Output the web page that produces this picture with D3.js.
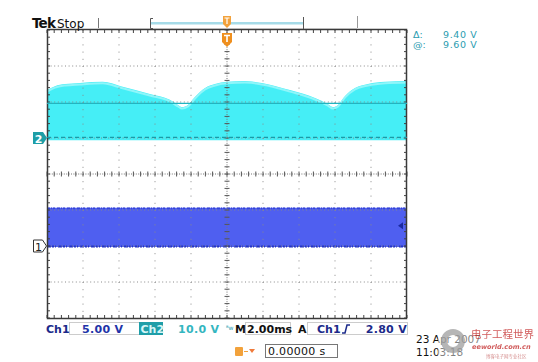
<!DOCTYPE html>
<html><head><meta charset="utf-8">
<script src="https://cdn.jsdelivr.net/npm/d3@7"></script>
<style>html,body{margin:0;padding:0;background:#fff;}svg{display:block;}</style>
</head><body>
<svg id="c" width="538" height="362"></svg>
<script>
// ---- data ----
const timeDomain = [-10, 10];            // ms, 2.00 ms/div
const divDomain = [-4, 4];               // vertical divisions
const ch2Scale = 10;                     // V/div
const ch2Offset = 1;                     // div
const ch1Scale = 5;                      // V/div
const ch1Offset = -2;                    // div
// Ch2 upper envelope (ms, V)
const ch2Time = [-10, -9.56, -9.0, -8.17, -6.9, -5.9, -4.28, -3.17, -2.72, -2.5, -2.17, -1.78, -1.22, -0.67, 0, 1.0, 1.94, 3.5, 4.89, 5.61, 5.89, 6.17, 6.56, 7.11, 7.83, 8.78, 10];
const ch2High = [13.3, 14.4, 15.0, 15.3, 15.6, 14.4, 12.2, 10.6, 9.2, 8.6, 9.2, 11.4, 13.9, 15.0, 15.6, 15.8, 15.3, 13.3, 11.1, 9.4, 8.6, 9.2, 11.7, 13.9, 15.0, 15.6, 15.8];
const ch2Low = -0.6;                     // V, lower envelope
// Ch1 band (ms, V)
const ch1Time = [-10, 10];
const ch1High = [5.3, 5.3];
const ch1Low = [-0.15, -0.15];
// cursors and trigger
const cursorA = 9.60;                    // @ (V, ch2)
const cursorDelta = 9.40;                // Δ (V)
const triggerLevel = 2.80;               // V on ch1
// readouts
const readoutLabels = ["Δ:", "@:"];
const readoutValues = ["9.40 V", "9.60 V"];

const svg = d3.select("#c");
const x = d3.scaleLinear().domain(timeDomain).range([47, 407]);
const yd = d3.scaleLinear().domain(divDomain).range([318, 30]);
const y2 = v => yd(ch2Offset + v / ch2Scale);
const y1 = v => yd(ch1Offset + v / ch1Scale);

const defs = svg.append("defs");
defs.append("filter").attr("id", "soft").append("feGaussianBlur").attr("stdDeviation", 0.7);

// ---- waveforms ----
const ch2Pts = ch2Time.map((t, i) => ({t, v: ch2High[i]}));
const area2 = d3.area().x(d => x(d.t)).y0(y2(ch2Low)).y1(d => y2(d.v)).curve(d3.curveMonotoneX);
svg.append("path").datum(ch2Pts).attr("d", area2).attr("fill", "#44eef6").attr("filter", "url(#soft)");
svg.append("path").datum(ch2Pts).attr("d", d3.line().x(d => x(d.t)).y(d => y2(d.v) + 1.5).curve(d3.curveMonotoneX))
  .attr("fill", "none").attr("stroke", "#8ff6fa").attr("stroke-width", 2).attr("filter", "url(#soft)");
svg.append("line").attr("x1", x(timeDomain[0])).attr("x2", x(timeDomain[1]))
  .attr("y1", y2(ch2Low)).attr("y2", y2(ch2Low)).attr("stroke", "#3cd8e4").attr("stroke-width", 2.5)
  .attr("stroke-dasharray", "2,1,1,2").attr("filter", "url(#soft)");

const ch1Pts = ch1Time.map((t, i) => ({t, hi: ch1High[i], lo: ch1Low[i]}));
svg.append("path").datum(ch1Pts).attr("d", d3.area().x(d => x(d.t)).y0(d => y1(d.lo)).y1(d => y1(d.hi)))
  .attr("fill", "#4f5ff0");
svg.append("line").attr("x1", x(timeDomain[0])).attr("x2", x(timeDomain[1]))
  .attr("y1", y1(ch1High[0]) + 0.5).attr("y2", y1(ch1High[0]) + 0.5)
  .attr("stroke", "#3444d8").attr("stroke-width", 1.6).attr("stroke-dasharray", "3,1,1,1,2,2");
svg.append("line").attr("x1", x(timeDomain[0])).attr("x2", x(timeDomain[1]))
  .attr("y1", y1(ch1Low[0]) - 0.5).attr("y2", y1(ch1Low[0]) - 0.5)
  .attr("stroke", "#2232c8").attr("stroke-width", 2).attr("stroke-dasharray", "4,1,2,1,1,2");

// ---- graticule ----
const g = svg.append("g");
const majorX = d3.range(-10, 10.01, 2);
const majorY = d3.range(-4, 4.01, 1);
majorX.filter(t => t !== 0 && Math.abs(t) !== 10).forEach(t => {
  g.append("line").attr("x1", x(t)).attr("x2", x(t)).attr("y1", yd(4)).attr("y2", yd(-4))
    .attr("stroke", "#8a8a8a").attr("stroke-width", 1).attr("stroke-dasharray", "1,6.2");
});
majorY.filter(d => d !== 0 && Math.abs(d) !== 4).forEach(d => {
  g.append("line").attr("x1", x(-10)).attr("x2", x(10)).attr("y1", yd(d)).attr("y2", yd(d))
    .attr("stroke", "#8a8a8a").attr("stroke-width", 1).attr("stroke-dasharray", "1,2.6");
});
// center lines
g.append("line").attr("x1", x(0)).attr("x2", x(0)).attr("y1", yd(4)).attr("y2", yd(-4))
  .attr("stroke", "#777").attr("stroke-width", 1).attr("stroke-dasharray", "1,1.4");
g.append("line").attr("x1", x(-10)).attr("x2", x(10)).attr("y1", yd(0)).attr("y2", yd(0))
  .attr("stroke", "#777").attr("stroke-width", 1).attr("stroke-dasharray", "1,1.4");
const minorX = d3.range(-10, 10.001, 0.4);
const minorY = d3.range(-4, 4.001, 0.2);
minorX.forEach(t => {
  const xx = x(t);
  g.append("line").attr("x1", xx).attr("x2", xx).attr("y1", yd(0) - 2.5).attr("y2", yd(0) + 2.5).attr("stroke", "#555");
  g.append("line").attr("x1", xx).attr("x2", xx).attr("y1", yd(4)).attr("y2", yd(4) + 3).attr("stroke", "#444");
  g.append("line").attr("x1", xx).attr("x2", xx).attr("y1", yd(-4)).attr("y2", yd(-4) - 3).attr("stroke", "#444");
});
minorY.forEach(d => {
  const yy = yd(d);
  g.append("line").attr("x1", x(0) - 2.5).attr("x2", x(0) + 2.5).attr("y1", yy).attr("y2", yy).attr("stroke", "#555");
  g.append("line").attr("x1", x(-10)).attr("x2", x(-10) + 3).attr("y1", yy).attr("y2", yy).attr("stroke", "#444");
  g.append("line").attr("x1", x(10)).attr("x2", x(10) - 3).attr("y1", yy).attr("y2", yy).attr("stroke", "#444");
});
g.append("rect").attr("x", x(-10) + 0.5).attr("y", yd(4) - 0.5).attr("width", x(10) - x(-10) - 1).attr("height", yd(-4) - yd(4) + 1)
  .attr("fill", "none").attr("stroke", "#3a3a3a").attr("stroke-width", 1.5);

// ---- cursors ----
svg.append("line").attr("x1", x(-10)).attr("x2", x(10)).attr("y1", y2(cursorA)).attr("y2", y2(cursorA))
  .attr("stroke", "#22b4c0").attr("stroke-width", 1.2);
svg.append("line").attr("x1", x(-10)).attr("x2", x(10)).attr("y1", y2(cursorA - cursorDelta)).attr("y2", y2(cursorA - cursorDelta))
  .attr("stroke", "#1a9aa8").attr("stroke-width", 1.2).attr("stroke-dasharray", "4,3");

// ---- channel markers ----
const m2 = svg.append("g").attr("transform", `translate(0,${y2(0)})`);
m2.append("path").attr("d", "M33,-6 H43 L47,0 L43,6 H33 Z").attr("fill", "#1e9ea6");
m2.append("text").attr("x", 38.5).attr("y", 4.5).attr("text-anchor", "middle").attr("fill", "#fff")
  .attr("font-family", "DejaVu Sans").attr("font-weight", "bold").attr("font-size", 11).text("2");
const m1 = svg.append("g").attr("transform", `translate(0,${y1(0)})`);
m1.append("path").attr("d", "M33.5,-6 H42.5 L46.5,0 L42.5,6 H33.5 Z").attr("fill", "#fff").attr("stroke", "#333");
m1.append("text").attr("x", 38.5).attr("y", 4.5).attr("text-anchor", "middle").attr("fill", "#222")
  .attr("font-family", "DejaVu Sans").attr("font-size", 11).text("1");
// trigger level arrow
svg.append("path").attr("d", `M${x(10) - 9},${y1(triggerLevel)} l5,-3.5 v7 Z`).attr("fill", "#1a2aa0");

// ---- top bar ----
const font = "DejaVu Sans";
svg.append("text").attr("x", 32).attr("y", 27.5).attr("font-family", font).attr("font-weight", "bold")
  .attr("font-size", 13.5).attr("letter-spacing", -0.8).attr("fill", "#111").text("Tek");
svg.append("text").attr("x", 57).attr("y", 27.5).attr("font-family", font)
  .attr("font-size", 12).attr("fill", "#111").text("Stop");
svg.append("line").attr("x1", 98).attr("x2", 357).attr("y1", 28.5).attr("y2", 28.5).attr("stroke", "#bbb");
svg.append("line").attr("x1", 98.5).attr("x2", 98.5).attr("y1", 18).attr("y2", 28).attr("stroke", "#777");
svg.append("line").attr("x1", 357.5).attr("x2", 357.5).attr("y1", 16).attr("y2", 28).attr("stroke", "#999");
svg.append("rect").attr("x", 151).attr("y", 22).attr("width", 152).attr("height", 2.5).attr("fill", "#a6dbe8");
svg.append("path").attr("d", "M153,18.5 H150.5 V28.5 H153").attr("fill", "none").attr("stroke", "#555");
svg.append("line").attr("x1", 303.5).attr("x2", 303.5).attr("y1", 17).attr("y2", 29).attr("stroke", "#555");
// trigger position markers (orange)
const tg = svg.append("g").attr("transform", `translate(${x(0)},0)`);
tg.append("path").attr("d", "M-4,16 H4 V24 L0,28 L-4,24 Z").attr("fill", "#f2a23c");
tg.append("path").attr("d", "M-2.5,18 H2.5 M0,18 V24").attr("stroke", "#fff").attr("stroke-width", 1.2);
tg.append("path").attr("d", "M-5,33 H5 V42 L0,47 L-5,42 Z").attr("fill", "#ef8f1e");
tg.append("path").attr("d", "M-3,35.5 H3 M0,35.5 V42").attr("stroke", "#fff").attr("stroke-width", 1.6);

// ---- right readouts ----
readoutLabels.forEach((l, i) => {
  const yy = 37.5 + i * 10;
  svg.append("text").attr("x", 413).attr("y", yy).attr("font-family", font).attr("font-size", 9.5)
    .attr("fill", "#2a9cb0").text(l);
  svg.append("text").attr("x", 443).attr("y", yy).attr("font-family", font).attr("font-size", 9.5)
    .attr("letter-spacing", 0.6).attr("fill", "#2a9cb0").text(readoutValues[i]);
});

// ---- bottom status bar ----
const by = 333;
svg.append("rect").attr("x", 69.5).attr("y", 322.5).attr("width", 70).attr("height", 12).attr("fill", "#fff").attr("stroke", "#ccc");
svg.append("rect").attr("x", 245.5).attr("y", 322.5).attr("width", 45).attr("height", 12).attr("fill", "#fff").attr("stroke", "#ccc");
svg.append("rect").attr("x", 307.5).attr("y", 322.5).attr("width", 100).attr("height", 12).attr("fill", "#fff").attr("stroke", "#ccc");
svg.append("text").attr("x", 46).attr("y", by).attr("font-family", font).attr("font-weight", "bold").attr("font-size", 11)
  .attr("fill", "#1b2a8a").text("Ch1");
svg.append("text").attr("x", 82).attr("y", by).attr("font-family", font).attr("font-weight", "bold").attr("font-size", 11)
  .attr("fill", "#2233a8").attr("letter-spacing", 0.3).text("5.00 V");
svg.append("rect").attr("x", 139).attr("y", 322).attr("width", 24).attr("height", 13).attr("fill", "#1f9ea8");
svg.append("text").attr("x", 140.5).attr("y", by).attr("font-family", font).attr("font-weight", "bold").attr("font-size", 11)
  .attr("fill", "#d8f6f8").text("Ch2");
svg.append("text").attr("x", 178).attr("y", by).attr("font-family", font).attr("font-weight", "bold").attr("font-size", 11)
  .attr("fill", "#34b6c0").attr("letter-spacing", 0.3).text("10.0 V");
svg.append("text").attr("x", 226).attr("y", by - 3).attr("font-family", font).attr("font-size", 6)
  .attr("fill", "#2a9cb0").text("ᴮw");
svg.append("text").attr("x", 235).attr("y", by).attr("font-family", font).attr("font-weight", "bold").attr("font-size", 11)
  .attr("fill", "#111").text("M");
svg.append("text").attr("x", 247).attr("y", by).attr("font-family", font).attr("font-weight", "bold").attr("font-size", 11)
  .attr("fill", "#111").text("2.00ms");
svg.append("text").attr("x", 298).attr("y", by).attr("font-family", font).attr("font-weight", "bold").attr("font-size", 11)
  .attr("fill", "#111").text("A");
svg.append("text").attr("x", 317).attr("y", by).attr("font-family", font).attr("font-weight", "bold").attr("font-size", 11)
  .attr("fill", "#1b2a8a").text("Ch1");
svg.append("path").attr("d", `M342,${by} h3 l2,-8 h3`).attr("fill", "none").attr("stroke", "#1b2a8a").attr("stroke-width", 1.5);
svg.append("text").attr("x", 407).attr("y", by).attr("text-anchor", "end").attr("font-family", font).attr("font-weight", "bold").attr("font-size", 11)
  .attr("fill", "#1b2a8a").attr("letter-spacing", 0.3).text("2.80 V");

// trigger position readout
svg.append("rect").attr("x", 235).attr("y", 347).attr("width", 8).attr("height", 9).attr("rx", 1).attr("fill", "#f2a23c");
svg.append("path").attr("d", "M244,351.5 h4").attr("stroke", "#f2a23c").attr("stroke-width", 1);
svg.append("path").attr("d", "M249,349 h6 l-3,4 Z").attr("fill", "#f07a3a");
svg.append("rect").attr("x", 265.5).attr("y", 344.5).attr("width", 72).attr("height", 13).attr("fill", "#fff").attr("stroke", "#777");
svg.append("text").attr("x", 268).attr("y", 355).attr("font-family", font).attr("font-size", 11)
  .attr("fill", "#111").attr("letter-spacing", 0.3).text("0.00000 s");

// date/time
svg.append("text").attr("x", 416).attr("y", 343).attr("font-family", font).attr("font-size", 10.5).attr("fill", "#111").text("23 Apr 2007");
svg.append("text").attr("x", 416).attr("y", 356).attr("font-family", font).attr("font-size", 10.5).attr("fill", "#111").text("11:03:18");

// watermark
const wm = svg.append("g").attr("opacity", 0.85);
wm.append("rect").attr("x", 438).attr("y", 326).attr("width", 100).attr("height", 36).attr("fill", "#fff").attr("opacity", 0.55);
wm.append("circle").attr("cx", 453).attr("cy", 341).attr("r", 9).attr("fill", "none").attr("stroke", "#aaa").attr("stroke-width", 6);
wm.append("text").attr("x", 471).attr("y", 338).attr("font-family", "Noto Sans CJK SC").attr("font-size", 10.5)
  .attr("fill", "#c94040").text("电子工程世界");
wm.append("text").attr("x", 472).attr("y", 349).attr("font-family", font).attr("font-style", "italic").attr("font-weight", "bold").attr("font-size", 6.6)
  .attr("fill", "#c94040").text("eeworld.com.cn");
wm.append("text").attr("x", 486).attr("y", 358).attr("font-family", "Noto Sans CJK SC").attr("font-size", 4.5)
  .attr("fill", "#d08080").text("博客电子网专业社区");
</script>
</body></html>
